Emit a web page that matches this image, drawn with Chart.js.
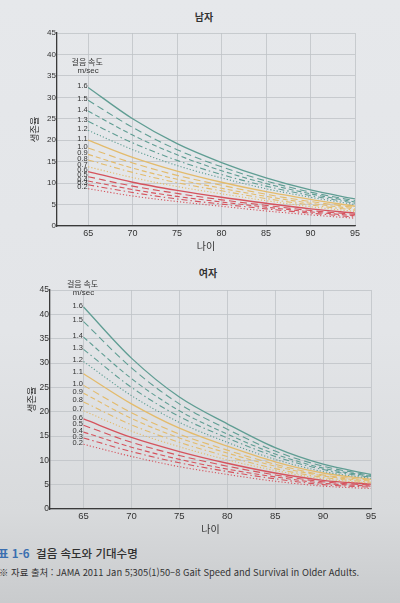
<!DOCTYPE html>
<html lang="ko">
<head>
<meta charset="utf-8">
<script src="https://cdn.jsdelivr.net/npm/chart.js@4.4.1/dist/chart.umd.min.js"></script>
<style>
  html, body { margin: 0; padding: 0; }
  body {
    width: 400px; height: 603px; overflow: hidden; position: relative;
    background: linear-gradient(180deg, #e6e8eb 0%, #e3e5e8 55%, #d8dadc 85%, #c9cbcd 100%);
    font-family: "Noto Sans CJK KR", "Liberation Sans", sans-serif; color: #333;
  }
  canvas { position: absolute; left: 0; }
  #maleChart { top: 0; }
  #femaleChart { top: 260px; }
  .title { position: absolute; font-size: 10px; font-weight: bold; color: #333; transform: translateX(-50%); }
  .cap1 { position: absolute; left: -2px; top: 545px; font-size: 11.5px; font-weight: 500; color: #2f2f2f; white-space: nowrap; }
  .cap1 b { color: #3b6fb0; font-weight: 700; }
  .cap2 { position: absolute; left: -1px; top: 565px; font-size: 9.4px; color: #333; white-space: nowrap; }
</style>
</head>
<body>
<div class="title" style="left:204px; top:9px;">남자</div>
<canvas id="maleChart" width="400" height="252"></canvas>
<div class="title" style="left:208px; top:265px;">여자</div>
<canvas id="femaleChart" width="400" height="280"></canvas>
<div class="cap1"><b>표 1-6</b>&nbsp; 걸음 속도와 기대수명</div>
<div class="cap2">※ 자료 출처 : JAMA 2011 Jan 5;305(1)50–8 Gait Speed and Survival in Older Adults.</div>

<script>
// ages on the x axis, gait speeds (m/sec) for each curve
const ages = [65, 70, 75, 80, 85, 90, 95];
const xTicks = [65, 70, 75, 80, 85, 90, 95];
const speeds = ['1.6', '1.5', '1.4', '1.3', '1.2', '1.1', '1.0', '0.9', '0.8', '0.7', '0.6', '0.5', '0.4', '0.3', '0.2'];

// expected survival (years), men, one row per speed
const maleSurvival = [
  [32.3, 25.0, 19.2, 14.8, 11.2, 8.4, 6.3],
  [29.3, 23.0, 17.8, 13.8, 10.5, 7.9, 5.9],
  [26.8, 21.2, 16.6, 12.9, 9.9, 7.5, 5.6],
  [24.4, 19.4, 15.3, 12.0, 9.3, 7.1, 5.3],
  [22.3, 17.8, 14.1, 11.2, 8.7, 6.7, 5.0],
  [20.0, 16.0, 12.8, 10.2, 8.0, 6.2, 4.6],
  [18.2, 14.7, 11.8, 9.5, 7.4, 5.7, 4.3],
  [16.7, 13.5, 10.9, 8.8, 6.9, 5.3, 4.0],
  [15.4, 12.5, 10.1, 8.2, 6.4, 4.9, 3.7],
  [13.8, 11.3, 9.2, 7.5, 5.9, 4.5, 3.4],
  [12.7, 10.2, 8.3, 6.7, 5.3, 4.0, 3.0],
  [11.5, 9.3, 7.6, 6.1, 4.8, 3.6, 2.7],
  [10.5, 8.5, 6.9, 5.6, 4.4, 3.3, 2.4],
  [9.6, 7.8, 6.3, 5.1, 4.0, 3.0, 2.1],
  [8.7, 7.0, 5.7, 4.6, 3.5, 2.6, 1.8]
];

// expected survival (years), women
const femaleSurvival = [
  [41.5, 31.0, 23.0, 17.5, 12.6, 9.2, 7.1],
  [38.5, 29.0, 21.6, 16.4, 11.9, 8.8, 6.9],
  [35.3, 26.8, 20.2, 15.4, 11.3, 8.4, 6.7],
  [32.8, 25.0, 19.0, 14.6, 10.8, 8.1, 6.5],
  [30.3, 23.3, 17.8, 13.7, 10.2, 7.7, 6.3],
  [27.8, 21.6, 16.6, 12.9, 9.7, 7.4, 6.1],
  [25.4, 19.8, 15.4, 12.1, 9.2, 7.0, 5.9],
  [23.8, 18.6, 14.6, 11.5, 8.8, 6.8, 5.7],
  [22.0, 17.3, 13.7, 10.8, 8.3, 6.5, 5.5],
  [20.2, 16.0, 12.8, 10.1, 7.9, 6.2, 5.3],
  [18.5, 14.7, 11.8, 9.4, 7.4, 5.9, 5.1],
  [17.2, 13.7, 11.0, 8.8, 7.0, 5.6, 4.9],
  [15.8, 12.7, 10.2, 8.2, 6.6, 5.3, 4.7],
  [14.6, 11.8, 9.5, 7.7, 6.2, 5.0, 4.5],
  [13.3, 10.8, 8.7, 7.1, 5.7, 4.7, 4.2]
];

const groupColors = ['#5f9d93', '#e3bb6c', '#d5535d'];
const dashStyles = [[], [7, 4], [5, 3], [6, 3, 1.5, 3], [1.2, 2]];

function buildDatasets(rows) {
  return rows.map((row, i) => ({
    label: speeds[i],
    data: row.map((v, j) => ({ x: ages[j], y: v })),
    borderColor: groupColors[Math.floor(i / 5)],
    borderDash: dashStyles[i % 5],
    borderWidth: i % 5 === 0 ? 1.3 : 1.1,
    pointRadius: 0,
    fill: false,
    cubicInterpolationMode: 'monotone'
  }));
}

// speed labels at the start of each curve + "걸음 속도 m/sec" header
const speedLabels = {
  id: 'speedLabels',
  afterDatasetsDraw(chart, args, opts) {
    const { ctx, chartArea, scales: { x, y } } = chart;
    const x0 = x.getPixelForValue(ages[0]);
    ctx.save();
    ctx.fillStyle = '#333';
    ctx.textAlign = 'right';
    ctx.textBaseline = 'middle';
    ctx.font = opts.size + 'px "Liberation Sans", sans-serif';
    chart.data.datasets.forEach((ds) => {
      ctx.fillText(ds.label, x0 - 0.5, y.getPixelForValue(ds.data[0].y) - 1.5);
    });
    ctx.textAlign = 'center';
    ctx.font = (opts.size + 0.5) + 'px "Noto Sans CJK KR", sans-serif';
    ctx.fillText('걸음 속도', x0 - 1, chartArea.top + opts.headY);
    ctx.font = (opts.size + 0.5) + 'px "Liberation Sans", sans-serif';
    ctx.fillText('m/sec', x0, chartArea.top + opts.headY + 9);
    ctx.restore();
  }
};

function makeChart(id, rows, cfg) {
  return new Chart(document.getElementById(id), {
    type: 'line',
    data: { datasets: buildDatasets(rows) },
    plugins: [speedLabels],
    options: {
      responsive: false,
      animation: false,
      layout: { padding: { left: 0, right: cfg.padRight, top: cfg.padTop, bottom: 0 } },
      plugins: {
        legend: { display: false },
        tooltip: { enabled: false },
        speedLabels: { size: cfg.labelSize, headY: cfg.headY }
      },
      scales: {
        x: {
          type: 'linear',
          min: 61.5,
          max: 95,
          afterBuildTicks: (scale) => { scale.ticks = xTicks.map(v => ({ value: v })); },
          afterFit: (scale) => { scale.height = cfg.xHeight; },
          grid: { color: '#bfc3c7', lineWidth: 0.8, drawTicks: false },
          border: { color: '#3a3a3a', width: 1.3 },
          ticks: { padding: cfg.xTickPad, color: '#333', font: { family: '"Liberation Sans", sans-serif', size: cfg.xTickSize } },
          title: { display: true, text: '나이', color: '#333', padding: { top: 0, bottom: cfg.xTitlePad },
                   font: { family: '"Noto Sans CJK KR", sans-serif', size: 10 } }
        },
        y: {
          min: 0,
          max: 45,
          afterFit: (scale) => { scale.width = cfg.yWidth; },
          grid: { color: '#bfc3c7', lineWidth: 0.8, drawTicks: false },
          border: { color: '#3a3a3a', width: 1.3 },
          ticks: { stepSize: 5, padding: 1, color: '#333', font: { family: '"Liberation Sans", sans-serif', size: cfg.yTickSize } },
          title: { display: true, text: '생존율', color: '#333', padding: { top: cfg.yTitlePad, bottom: 0 },
                   font: { family: '"Noto Sans CJK KR", sans-serif', size: 9.5 } }
        }
      }
    }
  });
}

makeChart('maleChart', maleSurvival, {
  padRight: 45, padTop: 33, yWidth: 57, xHeight: 26,
  xTickPad: 2, xTickSize: 9, yTickSize: 8, labelSize: 7.5,
  xTitlePad: 0, yTitlePad: 29, headY: 29
});

makeChart('femaleChart', femaleSurvival, {
  padRight: 29, padTop: 30, yWidth: 50, xHeight: 31,
  xTickPad: 2, xTickSize: 9.5, yTickSize: 8.5, labelSize: 7.5,
  xTitlePad: 5, yTitlePad: 26, headY: -6
});
</script>
</body>
</html>
